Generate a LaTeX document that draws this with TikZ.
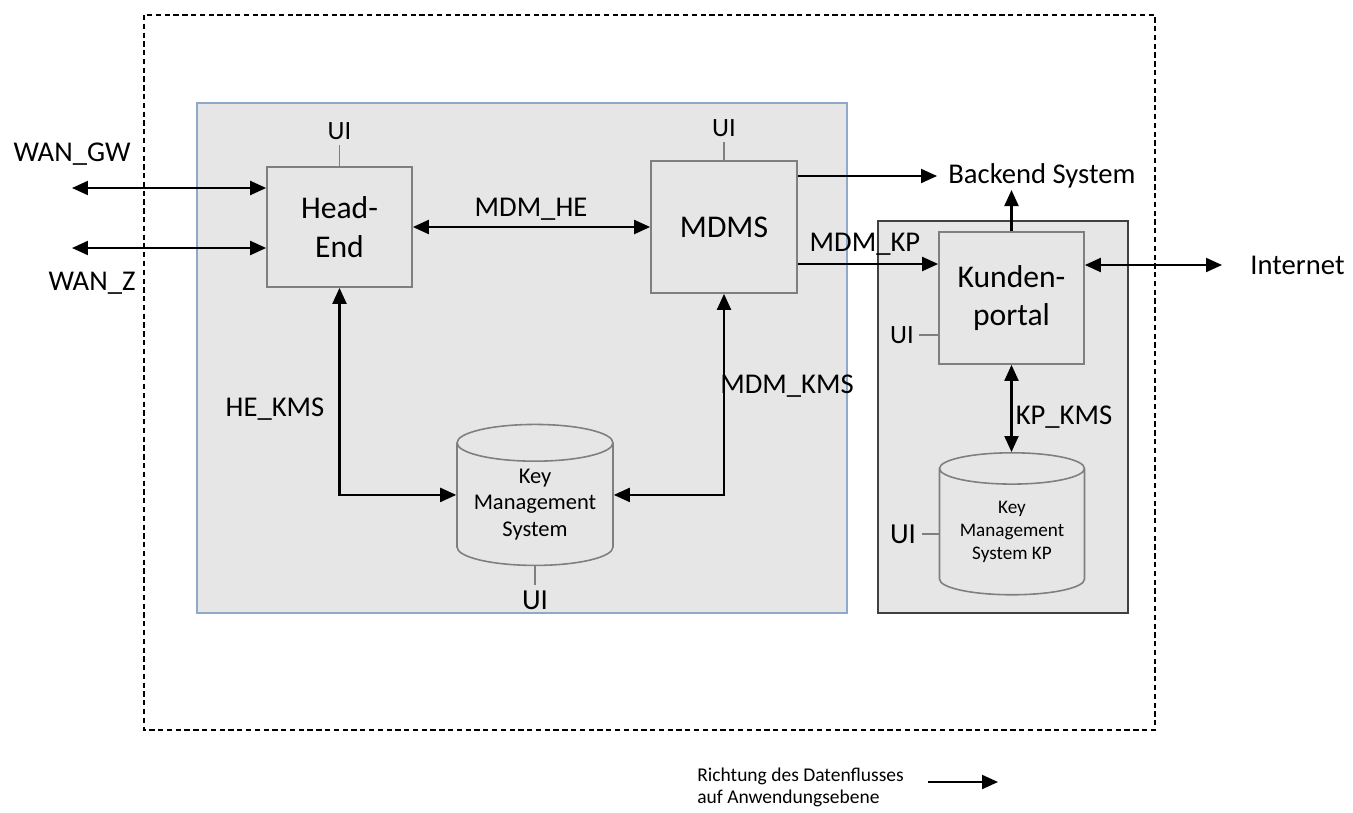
\documentclass[tikz,border=0pt]{standalone}
\usepackage{fontspec}
\setmainfont{Carlito}
\usetikzlibrary{arrows.meta,shapes.geometric}
\definecolor{boxgrey}{HTML}{E6E6E6}
\definecolor{edgegrey}{HTML}{7F7F7F}
\definecolor{bluegrey}{HTML}{8EA9C9}
\begin{document}
\begin{tikzpicture}[x=0.02cm,y=-0.02cm,
    flow/.style={line width=1.2pt,-{Triangle[length=0.32cm,width=0.28cm]}},
    both/.style={line width=1.2pt,{Triangle[length=0.32cm,width=0.28cm]}-{Triangle[length=0.32cm,width=0.28cm]}},
    unit/.style={draw=edgegrey,line width=1pt,fill=boxgrey,align=center,
      font=\fontsize{18}{22}\selectfont},
    store/.style={cylinder,shape border rotate=90,draw=edgegrey,line width=0.9pt,
      fill=boxgrey,aspect=0.3,align=center,inner sep=0pt},
    lbl/.style={inner sep=0pt,font=\fontsize{16.3}{19}\selectfont},
    ui/.style={inner sep=3pt,font=\fontsize{15}{17}\selectfont},
    uibig/.style={inner sep=3pt,font=\fontsize{16.5}{18}\selectfont},
    tick/.style={draw=edgegrey,line width=0.9pt}]
  \useasboundingbox (0,0) rectangle (1353,812);
  \draw[line width=1pt,dash pattern=on 3pt off 2pt] (144,15) rectangle (1155,730);
  \draw[bluegrey,fill=boxgrey,line width=0.8pt] (197,103) rectangle (847,613);
  \draw[black!75,fill=boxgrey,line width=1.2pt] (878,221) rectangle (1128,613);

  \node[unit,minimum width=2.9cm,minimum height=2.4cm] (he) at (339.5,227) {Head-\\End};
  \node[unit,minimum width=2.92cm,minimum height=2.64cm] (mdms) at (724,227) {MDMS};
  \node[unit,minimum width=2.9cm,minimum height=2.64cm] (kp) at (1011.5,298) {Kunden-\\portal};
  \node[store,minimum width=3.12cm,minimum height=2.82cm,
    font=\fontsize{12.8}{15.3}\selectfont] (kms) at (535,504.5) {Key\\Management\\System};
  \node[store,minimum width=2.9cm,minimum height=2.84cm,
    font=\fontsize{10.9}{13}\selectfont] (kmskp) at (1012,532) {Key\\Management\\System KP};

  \node[ui] (uihe) at (339.5,131) {UI};
  \node[ui] (uimdms) at (724,128) {UI};
  \node[ui] (uikp) at (902,335) {UI};
  \node[uibig] (uikms) at (535,600) {UI};
  \node[uibig] (uikmskp) at (903,534) {UI};
  \draw[tick] (uihe.south) -- (he.north);
  \draw[tick] (uimdms.south) -- (mdms.north);
  \draw[tick] (uikp.east) -- (kp.west |- uikp.east);
  \draw[tick] (kms.south) -- (uikms.north);
  \draw[tick] (uikmskp.east) -- (kmskp.west |- uikmskp.east);

  \coordinate (wgw) at (72,188);
  \coordinate (wz) at (72,248);
  \coordinate (betip) at (937,176);
  \coordinate (beup) at (1011,190);
  \coordinate (kpin) at (870,264);
  \coordinate (inet) at (1222,265);
  \node[lbl,anchor=west] (be) at (948,176) {Backend System};
  \node[lbl,anchor=west] (net) at (1250,265) {Internet};

  \draw[both] (wgw) -- (wgw -| he.west);
  \draw[both] (wz) -- (wz -| he.west);
  \draw[both] (he) -- (mdms);
  \draw[flow] (mdms.east |- betip) -- (betip);
  \draw[flow] (kp.north) -- (kp.north |- beup);
  \draw[flow] (mdms.east |- kpin) -- (kp.west |- kpin);
  \draw[both] (kp.east |- inet) -- (inet);
  \draw[both] (kp.south) -- (kp.south |- kmskp.north);
  \draw[both] (he.south) |- (kms.west |- kms.shape center);
  \draw[both] (mdms.south) |- (kms.east |- kms.shape center);

  \node[lbl] (wgwl) at (72,154) {WAN\_GW};
  \node[lbl] (wzl) at (92,283) {WAN\_Z};
  \node[lbl] (mdmhe) at (531,209) {MDM\_HE};
  \node[lbl] (mdmkp) at (865,244) {MDM\_KP};
  \node[lbl] (hekms) at (275,409) {HE\_KMS};
  \node[lbl] (mdmkms) at (787,386) {MDM\_KMS};
  \node[lbl] (kpkms) at (1064,417) {KP\_KMS};

  \coordinate (legs) at (928,782);
  \coordinate (lege) at (998,782);
  \node[inner sep=0pt,align=left,anchor=west,font=\fontsize{11.1}{12.5}\selectfont]
    (leg) at (697,787) {Richtung des Datenflusses\\auf Anwendungsebene};
  \draw[flow] (legs) -- (lege);
\end{tikzpicture}
\end{document}
